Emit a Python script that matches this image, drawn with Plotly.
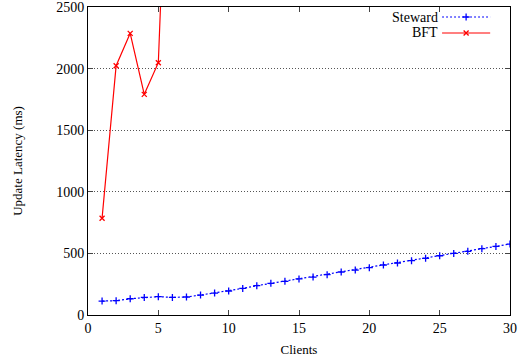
import plotly.graph_objects as go

clients_steward = list(range(1, 31))
steward_ms = [113, 116, 132, 143, 149, 143, 146, 162, 178, 195,
              216, 238, 257, 273, 293, 308, 327, 349, 365, 384,
              406, 422, 441, 460, 481, 500, 517, 538, 557, 576]
clients_bft = [1, 2, 3, 4, 5, 6]
bft_ms = [785, 2023, 2286, 1791, 2048, 5000]

x_ticks = [0, 5, 10, 15, 20, 25, 30]
y_ticks = [0, 500, 1000, 1500, 2000, 2500]
series_names = ["Steward", "BFT"]

FONT = "'Liberation Serif', 'Times New Roman', serif"
fig = go.Figure()

fig.add_trace(go.Scatter(x=clients_steward, y=steward_ms, mode="lines+markers",
                         name=series_names[0], cliponaxis=True,
                         line=dict(color="#0000ff", width=1.2, dash="2px,2px"),
                         marker=dict(symbol="cross-thin", size=5,
                                     line=dict(color="#0000ff", width=1.3)),
                         showlegend=False))
fig.add_trace(go.Scatter(x=clients_bft, y=bft_ms, mode="lines+markers",
                         name=series_names[1], cliponaxis=True,
                         line=dict(color="#ff0000", width=1.2),
                         marker=dict(symbol="x-thin", size=5,
                                     line=dict(color="#ff0000", width=1.3)),
                         showlegend=False))

# legend keys on an overlay axis (paper-like 0..1)
key_y = [0.9675, 0.9156]
styles = [dict(color="#0000ff", dash="2px,2px", sym="cross-thin"),
          dict(color="#ff0000", dash="solid", sym="x-thin")]
for name, ky, st in zip(series_names, key_y, styles):
    fig.add_trace(go.Scatter(x=[0.839, 0.953], y=[ky, ky], mode="lines",
                             xaxis="x2", yaxis="y2", showlegend=False,
                             line=dict(color=st["color"], width=1.2, dash=st["dash"]),
                             hoverinfo="skip"))
    fig.add_trace(go.Scatter(x=[0.896], y=[ky], mode="markers",
                             xaxis="x2", yaxis="y2", showlegend=False,
                             marker=dict(symbol=st["sym"], size=5,
                                         line=dict(color=st["color"], width=1.3)),
                             hoverinfo="skip"))
    fig.add_annotation(x=0.834, y=ky, xref="paper", yref="paper", text=name,
                       showarrow=False, xanchor="right", yanchor="middle",
                       font=dict(family=FONT, size=14, color="black"))

fig.update_layout(
    width=527, height=362,
    margin=dict(l=88, r=17, t=7, b=47, autoexpand=False),
    paper_bgcolor="white", plot_bgcolor="white",
    font=dict(family=FONT, size=14, color="black"),
    xaxis=dict(range=[0, 30], tickvals=x_ticks, ticks="inside", ticklen=5,
               showgrid=False, zeroline=False, showline=True, linecolor="black",
               linewidth=1, mirror="ticks", automargin=False,
               ticklabeloverflow="allow",
               tickfont=dict(family=FONT, size=14),
               title=dict(text="Clients", font=dict(family=FONT, size=13), standoff=10)),
    yaxis=dict(range=[0, 2500], tickvals=y_ticks, ticks="inside", ticklen=5,
               showgrid=True, gridcolor="#555555", griddash="1px,2px", gridwidth=1,
               zeroline=False, showline=True, linecolor="black", linewidth=1,
               mirror="ticks", automargin=False, ticklabeloverflow="allow",
               tickfont=dict(family=FONT, size=14),
               title=dict(text="Update Latency (ms)", font=dict(family=FONT, size=13),
                          standoff=30)),
    xaxis2=dict(range=[0, 1], overlaying="x", visible=False),
    yaxis2=dict(range=[0, 1], overlaying="y", visible=False),
)

fig.write_html("out.html", config={"displayModeBar": False},
               post_script="document.body.style.margin='0';document.body.style.padding='0';")
